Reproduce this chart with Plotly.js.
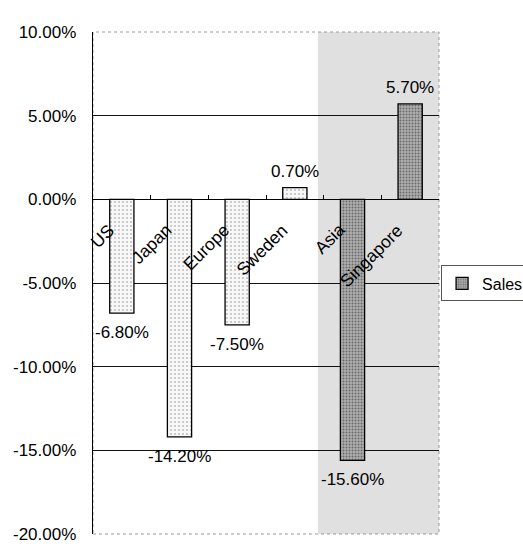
<!DOCTYPE html>
<html>
<head>
<meta charset="utf-8">
<script src="https://cdn.plot.ly/plotly-3.0.1.min.js"></script>
<style>html,body{margin:0;padding:0;background:#fff;}#chart{width:523px;height:557px;}</style>
</head>
<body>
<div id="chart"></div>
<script>
var categories = ["US", "Japan", "Europe", "Sweden", "Asia", "Singapore"];
var salesValues = [-6.8, -14.2, -7.5, 0.7, -15.6, 5.7];
var valueLabels = ["-6.80%", "-14.20%", "-7.50%", "0.70%", "-15.60%", "5.70%"];
var highlighted = [false, false, false, false, true, true];
var yTickVals = [10, 5, 0, -5, -10, -15, -20];
var yTickText = ["10.00%", "5.00%", "0.00%", "-5.00%", "-10.00%", "-15.00%", "-20.00%"];
var gridVals = [5, -5, -10, -15];

var FONT = "Liberation Sans, Arial, sans-serif";

var lightY = salesValues.map(function (v, i) { return highlighted[i] ? null : v; });
var darkY = salesValues.map(function (v, i) { return highlighted[i] ? v : null; });

var traceLight = {
  type: "bar", x: categories, y: lightY, width: 0.42, name: "Sales", showlegend: false,
  marker: { color: "#f3f3f3", line: { color: "#000", width: 1.3 },
            pattern: { shape: ".", fgcolor: "#c0c0c0", bgcolor: "#f8f8f8", size: 4, solidity: 0.22 } },
  hoverinfo: "x+y"
};
var traceDark = {
  type: "bar", x: categories, y: darkY, width: 0.42, name: "Sales", showlegend: true,
  marker: { color: "#9c9c9c", line: { color: "#000", width: 1.3 },
            pattern: { shape: ".", fgcolor: "#6a6a6a", bgcolor: "#b0b0b0", size: 3, solidity: 0.35 } },
  hoverinfo: "x+y"
};

var annotations = [];
categories.forEach(function (c, i) {
  annotations.push({
    x: c, y: 0, xref: "x", yref: "y", text: c, showarrow: false, textangle: -45,
    xanchor: "right", yanchor: "top", xshift: -1, yshift: -18,
    font: { family: FONT, size: 17.5, color: "#000" }
  });
  var neg = salesValues[i] < 0;
  annotations.push({
    x: c, y: salesValues[i], xref: "x", yref: "y", text: valueLabels[i], showarrow: false,
    xanchor: "center", yanchor: neg ? "top" : "bottom", yshift: neg ? -8 : 5,
    font: { family: FONT, size: 17, color: "#000" }
  });
});

var layout = {
  width: 523, height: 557,
  margin: { l: 93, r: 84, t: 32, b: 23, pad: 0, autoexpand: false },
  paper_bgcolor: "#fff", plot_bgcolor: "#fff",
  font: { family: FONT, size: 17, color: "#000" },
  barmode: "overlay",
  showlegend: true,
  legend: {
    x: 1.006, y: 0.535, xanchor: "left", yanchor: "top",
    bgcolor: "#fff", bordercolor: "#555", borderwidth: 1,
    font: { family: FONT, size: 16, color: "#000" },
    itemwidth: 30
  },
  xaxis: {
    type: "category", range: [-0.5, 5.5],
    anchor: "free", position: 0.6667,
    showline: true, linecolor: "#000", linewidth: 1,
    ticks: "inside", tickson: "boundaries", ticklen: 4, tickcolor: "#000",
    showticklabels: false, showgrid: false, zeroline: false, fixedrange: true
  },
  yaxis: {
    range: [-20, 10], tickmode: "array", tickvals: yTickVals, ticktext: yTickText,
    showgrid: false, zeroline: true, zerolinecolor: "#000", zerolinewidth: 1,
    showline: true, linecolor: "#000", linewidth: 1.3,
    ticks: "", ticklabelstandoff: 12,
    tickfont: { family: FONT, size: 17, color: "#000" },
    minor: { tickmode: "array", tickvals: gridVals, showgrid: true, gridcolor: "#111", gridwidth: 1, ticks: "" },
    fixedrange: true
  },
  shapes: [
    { type: "rect", layer: "below", xref: "x", yref: "paper", x0: 3.4, x1: 5.5, y0: 0, y1: 1,
      fillcolor: "#e0e0e0", line: { width: 0 } },
    { type: "rect", layer: "below", xref: "paper", yref: "paper", x0: 0, x1: 1, y0: 0, y1: 1,
      fillcolor: "rgba(0,0,0,0)", line: { color: "#999", width: 1, dash: "dot" } }
  ],
  annotations: annotations
};

Plotly.newPlot("chart", [traceLight, traceDark], layout, { staticPlot: true, displayModeBar: false });
</script>
</body>
</html>
